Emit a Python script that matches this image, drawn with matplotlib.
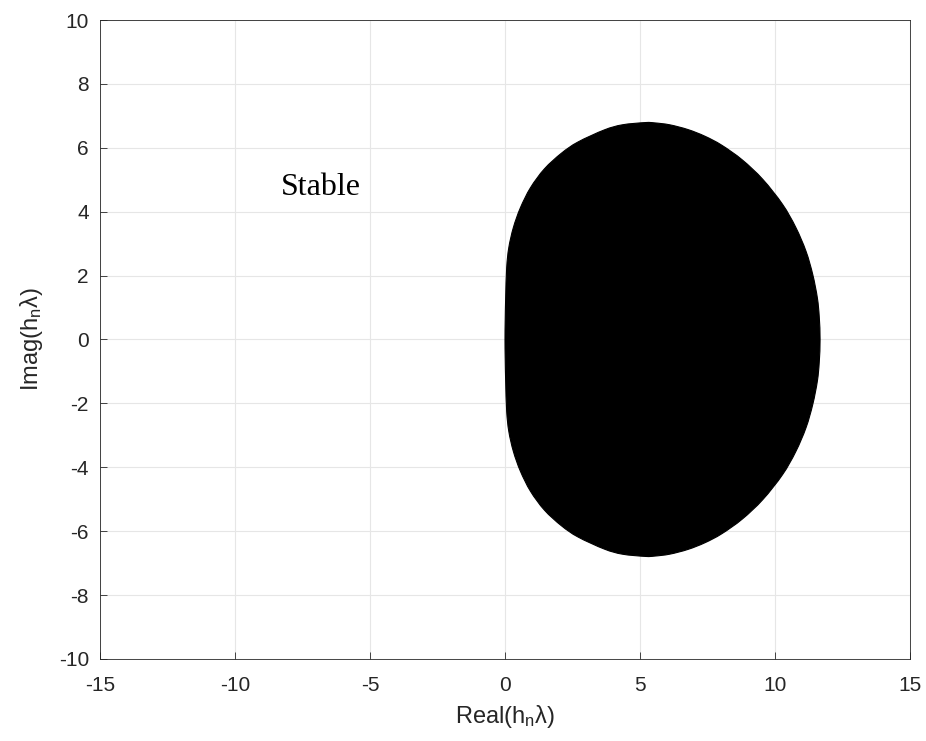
import numpy as np
import matplotlib
matplotlib.use('Agg')
import matplotlib.pyplot as plt
from matplotlib.path import Path
from matplotlib.patches import PathPatch

plt.rcParams['font.family'] = ['Liberation Sans', 'DejaVu Sans']
plt.rcParams['mathtext.fontset'] = 'custom'
plt.rcParams['mathtext.rm'] = 'Liberation Sans'
plt.rcParams['mathtext.it'] = 'Liberation Sans:italic'
plt.rcParams['axes.unicode_minus'] = False

# upper half of the instability boundary, from the real axis on the right
# round the top to the real axis on the left
edge_re = [11.67, 11.64, 11.57, 11.40, 11.15, 10.77, 10.28, 9.55, 8.79, 8.03,
           7.41, 6.78, 6.10, 5.54, 5.20, 4.35, 3.68, 2.70, 2.09, 1.46,
           0.944, 0.569, 0.309, 0.140, 0.062, 0.025, 0.008, 0.0]
edge_im = [0.0, 0.705, 1.30, 2.03, 2.76, 3.51, 4.23, 5.01, 5.62, 6.08,
           6.36, 6.57, 6.72, 6.78, 6.79, 6.72, 6.56, 6.18, 5.83, 5.34,
           4.75, 4.12, 3.50, 2.87, 2.24, 1.30, 0.60, 0.0]

x_ticks = [-15, -10, -5, 0, 5, 10, 15]
y_ticks = [-10, -8, -6, -4, -2, 0, 2, 4, 6, 8, 10]

# closed outline: upper half then its mirror image below the axis
re = np.array(edge_re + edge_re[::-1][1:-1])
im = np.array(edge_im + [-v for v in edge_im[::-1][1:-1]])
pts = np.column_stack([re, im])


def smooth_closed_path(p):
    # Catmull-Rom through the outline points, written as cubic Beziers
    n = len(p)
    verts = [p[0]]
    codes = [Path.MOVETO]
    for i in range(n):
        p0, p1, p2, p3 = p[i - 1], p[i], p[(i + 1) % n], p[(i + 2) % n]
        verts += [p1 + (p2 - p0) / 6, p2 - (p3 - p1) / 6, p2]
        codes += [Path.CURVE4] * 3
    verts.append(p[0])
    codes.append(Path.CLOSEPOLY)
    return Path(verts, codes)


fig = plt.figure(figsize=(9.26, 7.41), dpi=100, facecolor='white')
ax = fig.add_axes([0.108, 0.1107, 0.8747, 0.8623])

ax.add_patch(PathPatch(smooth_closed_path(pts), fc='black', ec='black',
                       lw=0.8, zorder=2))
ax.text(-8.3, 4.75, 'Stable', family='Liberation Serif', fontsize=23,
        va='center', ha='left', color='black')

ax.set_xlim(-15, 15)
ax.set_ylim(-10, 10)
ax.set_xticks(x_ticks)
ax.set_yticks(y_ticks)
ax.grid(True, color='#e6e6e6', lw=0.8, zorder=0)
ax.set_axisbelow(True)
ax.tick_params(direction='in', length=5, width=0.6, colors='#262626',
               labelsize=15, top=False, right=False)
ax.tick_params(axis='x', pad=12)
ax.tick_params(axis='y', pad=8)
for s in ax.spines.values():
    s.set_color('#262626')
    s.set_linewidth(0.6)

ax.set_xlabel(r'Real(h$_\mathrm{n}\mathrm{\lambda}$)', fontsize=17,
              color='#262626', labelpad=6)
ax.set_ylabel(r'Imag(h$_\mathrm{n}\mathrm{\lambda}$)', fontsize=17,
              color='#262626', labelpad=10)

fig.savefig('out.png', dpi=100)
